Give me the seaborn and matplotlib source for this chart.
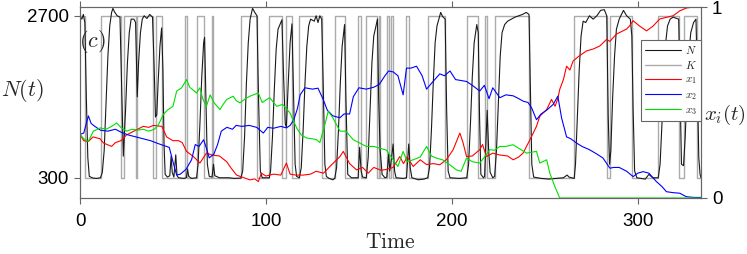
import matplotlib
matplotlib.use("Agg")
import matplotlib.pyplot as plt
from matplotlib.lines import Line2D
import seaborn as sns

# ---------------- data ----------------
# carrying capacity K: switch times and the level from each switch on
K_t = [0, 2.5, 11.5, 22.2, 23.5, 30.0, 30.6, 39.2, 40.8, 44.2,
       56.5, 57.5, 62.7, 66.7, 71, 71.8, 86.7, 95.2, 101.8, 108.6,
       111, 114, 118, 130, 137, 142.3, 149.6, 150.9, 154, 160,
       160.8, 161.6, 165, 166, 167, 168.2, 175.6, 177, 187, 196.4,
       208, 214, 217.6, 218.8, 223, 241.5, 265.8, 283.5, 284.8, 296.8,
       311, 322, 324.6, 331.7, 334]
K_vals = [2700, 300, 2700, 300, 2700, 300, 2700, 300, 2700, 300,
          2700, 300, 2700, 300, 2700, 300, 2700, 300, 2700, 300,
          2700, 300, 2700, 300, 2700, 300, 2700, 300, 2700, 300,
          2700, 300, 2700, 300, 2700, 300, 2700, 300, 2700, 300,
          2700, 300, 2700, 300, 2700, 300, 2700, 300, 2700, 300,
          2700, 300, 2700, 300, 300]

# population N(t)
N_t = [0, 1, 1.8, 2.6, 3.4, 4.2, 5, 7, 9, 11,
       12, 13, 14, 15, 16, 17, 17.7, 18.5, 20, 21.5,
       22.5, 23.3, 24.5, 25.5, 26.5, 27.5, 29, 29.9, 30.8, 31.5,
       32.5, 33.5, 34.5, 36, 37.5, 39, 39.8, 40.6, 41.3, 42,
       43, 43.9, 44.6, 45.2, 45.8, 47, 48.3, 49, 49.6, 50.5,
       51.5, 52.2, 53, 56, 57.2, 57.8, 58.5, 60, 62.7, 63.5,
       64.5, 65.5, 66.5, 67, 67.8, 68.5, 69.5, 71, 71.8, 72.5,
       75, 80, 83, 86.5, 87.5, 88.5, 89.5, 90.5, 91.5, 92.8,
       94, 95.2, 96, 97, 98, 101.8, 102.5, 103.5, 104.5, 105.5,
       106.5, 108.6, 109.5, 110.4, 111, 112, 113, 114, 114.8, 115.7,
       116.5, 118, 119, 120, 121, 122, 123, 124, 126, 127,
       128, 129, 130, 130.8, 131.7, 132.5, 134, 136, 137, 138,
       139, 140, 141, 142.3, 143, 144, 146, 149.6, 150.4, 151.2,
       152, 154, 155, 156, 157, 158, 160, 160.6, 161.4, 162.5,
       164, 165, 166, 166.6, 167.6, 168.4, 169.2, 170, 174, 175.6,
       176.8, 177.6, 178.5, 182, 185, 187, 188, 189, 190, 191,
       192, 193, 194, 195, 196.4, 197.2, 198, 199, 204, 208,
       209, 210, 211, 212, 213.4, 214.2, 214.9, 215.6, 217, 217.6,
       218.4, 219, 219.8, 220.6, 222, 223, 224, 225, 226, 227,
       228.4, 230, 232, 234, 236, 238, 240, 241.5, 242.3, 243,
       244, 248, 252, 256, 260, 262, 263, 265.8, 266.5, 267.5,
       268.5, 269.5, 270.6, 272, 274, 276, 278, 280, 282, 283.3,
       284.1, 284.8, 285.5, 286.5, 287.5, 288.5, 290, 292.3, 294, 296,
       296.8, 297.5, 298.3, 299.5, 304, 306, 308, 311, 312, 313,
       314, 315, 316, 317.4, 319, 322, 322.8, 323.5, 324.6, 325.5,
       326.5, 327.5, 328.5, 330, 331.3, 332, 332.8, 333.5, 334]
N_vals = [2690, 2650, 2720, 2600, 1500, 600, 320, 295, 290, 300,
          380, 700, 1400, 2100, 2550, 2750, 2810, 2760, 2700, 2680,
          1500, 620, 1300, 2000, 2450, 2650, 2650, 2600, 1500, 2000,
          2450, 2650, 2700, 2660, 2720, 2680, 2000, 1200, 1230, 1700,
          2250, 2520, 1900, 800, 350, 310, 330, 620, 380, 310,
          640, 330, 300, 290, 300, 430, 320, 290, 300, 500,
          1100, 1800, 2300, 2380, 1400, 500, 320, 310, 500, 330,
          300, 300, 290, 295, 400, 900, 1700, 2300, 2650, 2810,
          2750, 2700, 1500, 400, 300, 300, 400, 900, 1600, 2200,
          2500, 2640, 1800, 1100, 1050, 1700, 2300, 2580, 1600, 500,
          320, 300, 450, 1000, 1700, 2250, 2550, 2650, 2620, 2700,
          2600, 2700, 2650, 1700, 500, 320, 290, 270, 290, 450,
          1000, 1700, 2250, 2570, 1500, 350, 300, 300, 750, 400,
          310, 300, 600, 1300, 2000, 2400, 2650, 1500, 720, 350,
          300, 310, 650, 400, 600, 800, 400, 300, 290, 300,
          800, 450, 300, 270, 280, 300, 450, 1000, 1700, 2300,
          2550, 2650, 2750, 2690, 2650, 1300, 400, 300, 290, 300,
          500, 1100, 1800, 2300, 2570, 2450, 1200, 350, 300, 320,
          900, 1300, 700, 380, 300, 320, 700, 1400, 2100, 2450,
          2570, 2620, 2650, 2680, 2700, 2720, 2750, 2720, 1500, 500,
          310, 290, 280, 290, 300, 340, 310, 290, 500, 1200,
          1900, 2400, 2620, 2600, 2700, 2650, 2700, 2780, 2790, 2700,
          1200, 500, 700, 1500, 2100, 2500, 2650, 2780, 2700, 2650,
          2400, 1300, 400, 300, 280, 350, 300, 300, 500, 1100,
          1800, 2300, 2550, 2650, 2680, 2650, 1500, 500, 480, 900,
          1600, 2150, 2450, 2600, 2650, 1800, 600, 350, 300]

# fractions x_1, x_2, x_3
x1_t = [0, 2, 4.5, 7, 10.8, 12.6, 17, 19, 22, 25,
        28, 31, 34, 37, 39.4, 44, 46.6, 50, 53, 55,
        57.3, 61, 64.5, 68, 71, 75, 78.9, 81, 84.2, 87,
        91.4, 94, 95.9, 97.6, 100, 104, 108, 111, 113, 116,
        120, 124, 127, 131, 134.4, 137, 139.8, 141.6, 145, 148.8,
        152, 155, 158, 162, 165, 168.4, 172, 174, 176, 179.2,
        183, 186.4, 190, 193.5, 197, 200.7, 204.3, 206, 207.9, 211,
        215, 216.5, 218.6, 222, 225.8, 230, 233, 236, 238.3, 242,
        245.5, 247.3, 251, 253.6, 255.5, 257, 258, 260, 261.7, 263.5,
        265.2, 268, 272.4, 276, 279.6, 283.2, 285, 288.5, 291, 293.9,
        295.5, 297.5, 301, 304.7, 308.2, 311.8, 315, 319, 322.6, 326.2,
        330, 334]
x1 = [0.333, 0.30, 0.296, 0.32, 0.31, 0.288, 0.27, 0.29, 0.30, 0.33,
      0.345, 0.36, 0.375, 0.37, 0.38, 0.375, 0.32, 0.30, 0.30, 0.29,
      0.244, 0.217, 0.183, 0.235, 0.225, 0.22, 0.19, 0.16, 0.12, 0.11,
      0.095, 0.10, 0.086, 0.13, 0.115, 0.125, 0.12, 0.183, 0.125, 0.12,
      0.12, 0.125, 0.14, 0.13, 0.165, 0.19, 0.217, 0.244, 0.18, 0.147,
      0.16, 0.13, 0.16, 0.145, 0.15, 0.16, 0.217, 0.18, 0.215, 0.165,
      0.2, 0.175, 0.18, 0.174, 0.2, 0.253, 0.34, 0.29, 0.217, 0.22,
      0.253, 0.28, 0.217, 0.235, 0.225, 0.22, 0.2, 0.215, 0.235, 0.305,
      0.375, 0.428, 0.463, 0.516, 0.48, 0.52, 0.568, 0.62, 0.69, 0.67,
      0.717, 0.74, 0.77, 0.78, 0.796, 0.83, 0.82, 0.858, 0.87, 0.884,
      0.9, 0.928, 0.9, 0.875, 0.9, 0.937, 0.945, 0.954, 0.98, 0.995,
      1.0, 1.0]

x2_t = [0, 2, 4.5, 6, 8, 11, 15, 19, 22, 26,
        30, 34, 38, 42, 45, 48, 50, 52, 54, 57,
        60, 62, 64, 66.5, 68, 69.5, 72, 74, 76, 79,
        82, 84, 87, 91, 95, 98.6, 101, 104, 108, 111,
        113, 115, 117, 118.4, 121, 125, 128, 130.8, 133, 136,
        139.8, 142, 145, 147, 150, 154, 158, 161, 164, 166,
        168.5, 171, 173.8, 175.6, 178, 181, 184, 186.4, 189, 193.5,
        196, 199, 202, 205, 207.9, 211, 215, 217.5, 220, 222,
        225.8, 229, 233, 236, 238.3, 241, 243, 245.5, 248, 251,
        254.5, 257, 259, 261.7, 264, 267, 270, 274, 278, 281.3,
        285, 287, 290, 294, 297.5, 300, 302.8, 306, 310, 313,
        315.4, 319, 322.6, 326, 330, 334]
x2 = [0.333, 0.34, 0.43, 0.39, 0.375, 0.355, 0.35, 0.36, 0.345, 0.33,
      0.32, 0.31, 0.30, 0.285, 0.275, 0.265, 0.19, 0.12, 0.125, 0.15,
      0.2, 0.28, 0.27, 0.305, 0.26, 0.21, 0.23, 0.28, 0.35, 0.37,
      0.36, 0.38, 0.375, 0.38, 0.37, 0.34, 0.37, 0.365, 0.375, 0.367,
      0.38, 0.41, 0.47, 0.54, 0.577, 0.57, 0.575, 0.516, 0.46, 0.43,
      0.42, 0.44, 0.44, 0.53, 0.577, 0.57, 0.58, 0.595, 0.64, 0.665,
      0.66, 0.64, 0.54, 0.68, 0.68, 0.69, 0.64, 0.57, 0.60, 0.65,
      0.64, 0.665, 0.62, 0.615, 0.61, 0.59, 0.56, 0.59, 0.52, 0.577,
      0.525, 0.54, 0.535, 0.52, 0.507, 0.5, 0.47, 0.41, 0.44, 0.46,
      0.49, 0.533, 0.42, 0.32, 0.31, 0.288, 0.27, 0.253, 0.23, 0.209,
      0.156, 0.16, 0.16, 0.14, 0.112, 0.13, 0.138, 0.13, 0.086, 0.06,
      0.033, 0.028, 0.025, 0.007, 0.003, 0.003]

x3_t = [0, 2, 4.5, 7.2, 10.8, 14, 17, 19.7, 22, 25,
        28, 31, 34, 37, 40, 42, 44.8, 47, 50, 52,
        54.7, 57.3, 59, 62.7, 64.5, 66, 68, 70, 72, 75.3,
        77, 78.9, 82.4, 84, 86, 89, 91.4, 95.9, 98, 102,
        105.8, 109, 112.9, 116.5, 119, 121.9, 125, 127.3, 129, 131.7,
        133.5, 136, 139.8, 143, 147, 150, 154, 158, 161.3, 164.9,
        168.4, 171, 173.8, 176, 179.2, 183, 186.4, 189, 191.7, 195,
        198.9, 202.5, 205, 207.9, 211, 215, 218, 220.4, 223, 225.8,
        229, 232.9, 236, 240.2, 243, 245.5, 247.3, 251, 252.7, 255.4,
        258, 300, 334]
x3 = [0.333, 0.31, 0.296, 0.35, 0.367, 0.36, 0.375, 0.393, 0.37, 0.35,
      0.36, 0.355, 0.36, 0.35, 0.36, 0.38, 0.437, 0.46, 0.48, 0.56,
      0.577, 0.62, 0.58, 0.55, 0.577, 0.52, 0.48, 0.54, 0.50, 0.463,
      0.49, 0.516, 0.533, 0.51, 0.498, 0.52, 0.533, 0.55, 0.50, 0.525,
      0.48, 0.49, 0.446, 0.367, 0.33, 0.314, 0.31, 0.305, 0.29, 0.384,
      0.454, 0.42, 0.35, 0.35, 0.305, 0.29, 0.27, 0.27, 0.261, 0.25,
      0.2, 0.165, 0.244, 0.19, 0.2, 0.215, 0.27, 0.22, 0.209, 0.2,
      0.174, 0.147, 0.14, 0.209, 0.19, 0.183, 0.22, 0.253, 0.25, 0.27,
      0.27, 0.279, 0.26, 0.235, 0.24, 0.244, 0.183, 0.2, 0.13, 0.06,
      0.0, 0.0, 0.0]

# ---------------- styling ----------------
sns.set_theme(style="white")
plt.rcParams["font.family"] = ["Liberation Sans", "DejaVu Sans"]
plt.rcParams["mathtext.fontset"] = "cm"
plt.rcParams["axes.edgecolor"] = "#666666"
plt.rcParams["axes.linewidth"] = 0.8

c_N, c_K = "#1a1a1a", "#ababab"
c1, c2, c3 = "#ff0000", "#0000ff", "#00e000"

fig = plt.figure(figsize=(7.47, 2.54), dpi=100)
ax = fig.add_axes([80 / 747, 1 - 198 / 254, 621 / 747, 191 / 254])

sns.lineplot(x=K_t, y=K_vals, ax=ax, color=c_K, lw=1.0, drawstyle="steps-post",
             estimator=None, sort=False)
sns.lineplot(x=N_t, y=N_vals, ax=ax, color=c_N, lw=0.8, estimator=None, sort=False)

ax2 = ax.twinx()
sns.lineplot(x=x1_t, y=x1, ax=ax2, color=c1, lw=0.8, estimator=None, sort=False)
sns.lineplot(x=x2_t, y=x2, ax=ax2, color=c2, lw=0.8, estimator=None, sort=False)
sns.lineplot(x=x3_t, y=x3, ax=ax2, color=c3, lw=0.8, estimator=None, sort=False)

ax.set_xlim(0, 334)
ax.set_ylim(0, 2830)
ax2.set_ylim(0, 1)

ax.set_xticks([0, 100, 200, 300])
ax.set_yticks([300, 2700])
ax2.set_yticks([0, 1])
ax2.set_yticklabels(["0", "1"])

tick_kw = dict(direction="out", length=4.5, width=0.8, color="#666666",
               labelsize=13.5, labelcolor="black")
ax.tick_params(axis="x", bottom=True, top=True, labeltop=False, pad=6, **tick_kw)
ax.tick_params(axis="y", left=True, pad=3.5, **tick_kw)
ax2.tick_params(axis="y", right=True, pad=3.5, **tick_kw)

ax.set_xlabel(r"$\mathrm{Time}$", fontsize=15.5, va="center")
ax.xaxis.set_label_coords(0.5, -0.235)
ax.set_ylabel(r"$N(t)$", fontsize=16, rotation=0, ha="center", va="center")
ax.yaxis.set_label_coords(-0.093, 0.565)
ax2.set_ylabel(r"$x_i(t)$", fontsize=15, rotation=0, ha="center", va="center")
ax2.yaxis.set_label_coords(1.039, 0.435)

ax.text(0.020, 0.817, r"$(c)$", transform=ax.transAxes, fontsize=16,
        ha="center", va="center")

handles = [Line2D([], [], color=c_N, lw=0.8), Line2D([], [], color=c_K, lw=1.0),
           Line2D([], [], color=c1, lw=0.8), Line2D([], [], color=c2, lw=0.8),
           Line2D([], [], color=c3, lw=0.8)]
labels = ["$N$", "$K$", "$x_1$", "$x_2$", "$x_3$"]
leg = ax2.legend(handles, labels, loc="upper right", bbox_to_anchor=(1.0, 0.827),
                 fontsize=8, frameon=True, fancybox=False, framealpha=1,
                 edgecolor="#666666", handlelength=3.2, handletextpad=0.4,
                 borderpad=0.35, labelspacing=0.3, borderaxespad=0)
leg.get_frame().set_linewidth(0.8)

fig.savefig("out.png", dpi=100)
